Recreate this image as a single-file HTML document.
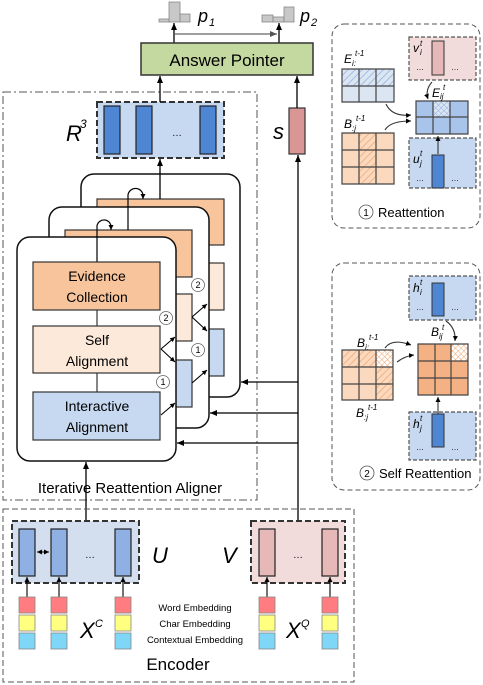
<!DOCTYPE html>
<html><head><meta charset="utf-8"><style>
html,body{margin:0;padding:0;background:#fff;}
svg{display:block;font-family:"Liberation Sans",sans-serif;}
</style></head><body>
<svg width="483" height="685" viewBox="0 0 483 685" xmlns="http://www.w3.org/2000/svg">
<defs>
<marker id="a" markerWidth="8" markerHeight="8" refX="7" refY="4" orient="auto" markerUnits="userSpaceOnUse"><path d="M0,1 L7,4 L0,7 z" fill="#000"/></marker>
<marker id="ag" markerWidth="8" markerHeight="8" refX="7" refY="4" orient="auto" markerUnits="userSpaceOnUse"><path d="M0,1 L7,4 L0,7 z" fill="#555"/></marker>
<marker id="as" markerWidth="6" markerHeight="6" refX="5" refY="3" orient="auto" markerUnits="userSpaceOnUse"><path d="M0,0.5 L5,3 L0,5.5 z" fill="#000"/></marker>
<marker id="asr" markerWidth="6" markerHeight="6" refX="1" refY="3" orient="auto" markerUnits="userSpaceOnUse"><path d="M6,0.5 L1,3 L6,5.5 z" fill="#000"/></marker>
<pattern id="hb" width="5" height="5" patternUnits="userSpaceOnUse" patternTransform="rotate(45)"><rect width="5" height="5" fill="#dce6f2"/><line x1="0" y1="0" x2="0" y2="5" stroke="#8fb0e0" stroke-width="1.5"/></pattern>
<pattern id="ho" width="5" height="5" patternUnits="userSpaceOnUse" patternTransform="rotate(45)"><rect width="5" height="5" fill="#fbd9bf"/><line x1="0" y1="0" x2="0" y2="5" stroke="#f4a56e" stroke-width="1.5"/></pattern>
<pattern id="xb" width="4" height="4" patternUnits="userSpaceOnUse" patternTransform="rotate(45)"><rect width="4" height="4" fill="#dce6f2"/><path d="M0,0 V4 M0,0 H4" stroke="#8fb0e0" stroke-width="1"/></pattern>
<pattern id="xo" width="4" height="4" patternUnits="userSpaceOnUse" patternTransform="rotate(45)"><rect width="4" height="4" fill="#fff"/><path d="M0,0 V4 M0,0 H4" stroke="#f4a56e" stroke-width="1"/></pattern>
</defs>

<!-- histograms -->
<g fill="#c8c8c8" stroke="#888" stroke-width="0.8">
<rect x="159" y="19" width="10" height="3"/><rect x="169" y="2" width="11" height="20"/><rect x="180" y="14" width="10" height="8"/>
<rect x="262" y="15" width="11" height="7"/><rect x="273" y="17" width="11" height="5"/><rect x="284" y="7" width="10" height="15"/>
</g>
<text x="198" y="22" font-size="18" font-style="italic">p</text><text x="209" y="26" font-size="11" font-style="italic">1</text>
<text x="300" y="22" font-size="18" font-style="italic">p</text><text x="311" y="26" font-size="11" font-style="italic">2</text>
<line x1="174" y1="43" x2="174" y2="23" stroke="#000" stroke-width="1.3" marker-end="url(#a)"/>
<line x1="279" y1="43" x2="279" y2="23" stroke="#000" stroke-width="1.3" marker-end="url(#a)"/>
<line x1="175" y1="34" x2="277" y2="34" stroke="#666" stroke-width="1.2" marker-end="url(#ag)"/>

<!-- Answer pointer -->
<rect x="141" y="43" width="172" height="32" fill="#c4d9a0" stroke="#333" stroke-width="1.5"/>
<text x="227" y="66" font-size="17" text-anchor="middle">Answer Pointer</text>

<!-- Iterative dashed box -->
<rect x="3" y="92" width="254" height="168" fill="none"/>
<path d="M3,92 H257 V500 H3 Z" fill="none" stroke="#555" stroke-width="1" stroke-dasharray="8,3,2,3"/>

<!-- R3 -->
<rect x="97" y="102" width="127" height="56" fill="#c6d9f0" stroke="#333" stroke-width="2" stroke-dasharray="6,3"/>
<g fill="#4f86d4" stroke="#222" stroke-width="1.2">
<rect x="104" y="106" width="16" height="48"/><rect x="136" y="106" width="16" height="48"/><rect x="200" y="106" width="16" height="48"/>
</g>
<text x="177" y="136" font-size="10" text-anchor="middle">…</text>
<text x="66" y="141" font-size="22" font-style="italic">R</text><text x="80" y="128" font-size="12" font-style="italic">3</text>
<line x1="160" y1="102" x2="160" y2="76" stroke="#000" stroke-width="1.3" marker-end="url(#a)"/>

<!-- s -->
<rect x="289" y="108" width="16" height="46" fill="#d99694" stroke="#333" stroke-width="1.2"/>
<text x="273" y="139" font-size="22" font-style="italic">s</text>
<line x1="297" y1="108" x2="297" y2="76" stroke="#000" stroke-width="1.3" marker-end="url(#a)"/>
<line x1="298" y1="520" x2="298" y2="155" stroke="#000" stroke-width="1.3" marker-end="url(#a)"/>

<!-- back frame -->
<rect x="81" y="174" width="159" height="223" rx="13" fill="#fff" stroke="#111" stroke-width="1.5"/>
<rect x="97" y="199" width="127" height="46" fill="#f8c49c" stroke="#333" stroke-width="1.2"/>
<rect x="97" y="263" width="127" height="47" fill="#fde9d9" stroke="#333" stroke-width="1.2"/>
<rect x="97" y="329" width="127" height="47" fill="#c6d9f0" stroke="#333" stroke-width="1.2"/>
<line x1="160" y1="199" x2="160" y2="159" stroke="#000" stroke-width="1.3" marker-end="url(#a)"/>
<!-- middle frame -->
<rect x="49" y="207" width="160" height="221" rx="13" fill="#fff" stroke="#111" stroke-width="1.5"/>
<rect x="65" y="230" width="127" height="47" fill="#f8c49c" stroke="#333" stroke-width="1.2"/>
<rect x="65" y="294" width="127" height="47" fill="#fde9d9" stroke="#333" stroke-width="1.2"/>
<rect x="65" y="360" width="127" height="47" fill="#c6d9f0" stroke="#333" stroke-width="1.2"/>
<path d="M128,230 V195 A7,7 0 0 1 143,197 V199" fill="none" stroke="#000" stroke-width="1.2" marker-end="url(#as)"/>
<!-- front frame -->
<rect x="17" y="237" width="159" height="224" rx="13" fill="#fff" stroke="#111" stroke-width="1.5"/>
<path d="M97,262 V226 A7,7 0 0 1 111,228 V230" fill="none" stroke="#000" stroke-width="1.2" marker-end="url(#as)"/>
<line x1="97" y1="310" x2="97" y2="326" stroke="#333" stroke-width="1.2"/>
<line x1="97" y1="373" x2="97" y2="392" stroke="#333" stroke-width="1.2"/>
<rect x="33" y="262" width="127" height="48" fill="#f8c49c" stroke="#333" stroke-width="1.2"/>
<rect x="33" y="326" width="127" height="47" fill="#fde9d9" stroke="#333" stroke-width="1.2"/>
<rect x="33" y="392" width="127" height="48" fill="#c6d9f0" stroke="#333" stroke-width="1.2"/>
<g font-size="14" text-anchor="middle">
<text x="97" y="281">Evidence</text><text x="97" y="302">Collection</text>
<text x="97" y="345">Self</text><text x="97" y="366">Alignment</text>
<text x="97" y="411">Interactive</text><text x="97" y="432">Alignment</text>
</g>
<!-- small arrows -->
<g stroke="#000" stroke-width="1.1" fill="none" marker-end="url(#as)">
<path d="M161,349 L175,337"/><path d="M161,349 L175,362"/><path d="M161,415 L175,403"/>
<path d="M192,317 L207,304"/><path d="M192,317 L207,331"/><path d="M192,383 L207,370"/>
</g>
<g fill="#fff" stroke="#666" stroke-width="0.8" font-size="9" text-anchor="middle">
<circle cx="166" cy="318" r="6.5"/><circle cx="163" cy="382" r="6.5"/><circle cx="198" cy="285" r="6.5"/><circle cx="198" cy="350" r="6.5"/>
</g>
<g font-size="9" text-anchor="middle"><text x="166" y="321">2</text><text x="163" y="385">1</text><text x="198" y="288">2</text><text x="198" y="353">1</text></g>
<!-- s feeds -->
<g stroke="#000" stroke-width="1.3" marker-end="url(#a)">
<line x1="298" y1="382" x2="241" y2="382"/><line x1="298" y1="413" x2="210" y2="413"/><line x1="298" y1="443" x2="177" y2="443"/>
</g>
<line x1="86" y1="520" x2="86" y2="462" stroke="#000" stroke-width="1.3" marker-end="url(#a)"/>
<text x="130" y="493" font-size="15" text-anchor="middle">Iterative Reattention Aligner</text>

<!-- Encoder -->
<rect x="3" y="509" width="351" height="173" fill="none" stroke="#555" stroke-width="1" stroke-dasharray="6,3"/>
<rect x="12" y="521" width="127" height="62" fill="#d3dfee" stroke="#333" stroke-width="2" stroke-dasharray="6,3"/>
<g fill="#8fb0e3" stroke="#222" stroke-width="1.2">
<rect x="19" y="529" width="16" height="47"/><rect x="51" y="529" width="16" height="47"/><rect x="115" y="529" width="16" height="47"/>
</g>
<line x1="37" y1="552" x2="49" y2="552" stroke="#000" stroke-width="1" marker-end="url(#as)" marker-start="url(#asr)"/>
<text x="90" y="558" font-size="10" text-anchor="middle">…</text>
<rect x="251" y="521" width="94" height="62" fill="#f2dcdb" stroke="#333" stroke-width="2" stroke-dasharray="6,3"/>
<g fill="#e6b8b7" stroke="#222" stroke-width="1.2"><rect x="259" y="529" width="16" height="47"/><rect x="322" y="529" width="16" height="47"/></g>
<text x="298" y="558" font-size="10" text-anchor="middle">…</text>
<text x="152" y="563" font-size="22" font-style="italic">U</text>
<text x="222" y="563" font-size="22" font-style="italic">V</text>
<g stroke="#000" stroke-width="1.1" marker-end="url(#as)">
<line x1="27" y1="597" x2="27" y2="577"/><line x1="59" y1="597" x2="59" y2="577"/><line x1="123" y1="597" x2="123" y2="577"/><line x1="267" y1="597" x2="267" y2="577"/><line x1="330" y1="597" x2="330" y2="577"/>
</g>
<g stroke="#888" stroke-width="0.8">
<g transform="translate(19,0)"><rect y="597" width="16" height="16" fill="#ff7c80"/><rect y="615" width="16" height="16" fill="#ffff80"/><rect y="633" width="16" height="16" fill="#7fd7f7"/></g>
<g transform="translate(51,0)"><rect y="597" width="16" height="16" fill="#ff7c80"/><rect y="615" width="16" height="16" fill="#ffff80"/><rect y="633" width="16" height="16" fill="#7fd7f7"/></g>
<g transform="translate(115,0)"><rect y="597" width="16" height="16" fill="#ff7c80"/><rect y="615" width="16" height="16" fill="#ffff80"/><rect y="633" width="16" height="16" fill="#7fd7f7"/></g>
<g transform="translate(259,0)"><rect y="597" width="16" height="16" fill="#ff7c80"/><rect y="615" width="16" height="16" fill="#ffff80"/><rect y="633" width="16" height="16" fill="#7fd7f7"/></g>
<g transform="translate(322,0)"><rect y="597" width="16" height="16" fill="#ff7c80"/><rect y="615" width="16" height="16" fill="#ffff80"/><rect y="633" width="16" height="16" fill="#7fd7f7"/></g>
</g>
<text x="80" y="638" font-size="22" font-style="italic">X</text><text x="95" y="627" font-size="11" font-style="italic">C</text>
<text x="286" y="638" font-size="22" font-style="italic">X</text><text x="301" y="627" font-size="11" font-style="italic">Q</text>
<g font-size="9.5" text-anchor="middle"><text x="195" y="611">Word Embedding</text><text x="195" y="627">Char Embedding</text><text x="195" y="643">Contextual Embedding</text></g>
<text x="178" y="670" font-size="17" text-anchor="middle">Encoder</text>

<!-- Reattention panel -->
<rect x="332" y="24" width="148" height="204" rx="12" fill="none" stroke="#555" stroke-width="1" stroke-dasharray="5,3"/>
<text x="344" y="63" font-size="12" font-style="italic">E</text><text x="352" y="66" font-size="8" font-style="italic">i:</text><text x="355" y="56" font-size="8" font-style="italic">t-1</text>
<rect x="342" y="69" width="52" height="17" fill="url(#hb)"/><rect x="342" y="86" width="52" height="16" fill="#dce6f2"/>
<path d="M342,69 H394 V102 H342 Z M359,69 V102 M376,69 V102 M342,86 H394" fill="none" stroke="#444" stroke-width="1.2"/>
<text x="344" y="128" font-size="12" font-style="italic">B</text><text x="352" y="131" font-size="8" font-style="italic">:j</text><text x="356" y="121" font-size="8" font-style="italic">t-1</text>
<rect x="342" y="133" width="52" height="51" fill="#fbd9bf"/><rect x="359" y="133" width="17" height="51" fill="url(#ho)"/>
<path d="M342,133 H394 V184 H342 Z M359,133 V184 M376,133 V184 M342,150 H394 M342,167 H394" fill="none" stroke="#444" stroke-width="1.2"/>
<rect x="409" y="37" width="67" height="43" fill="#f2dcdb" stroke="#555" stroke-width="1.2" stroke-dasharray="4,2"/>
<rect x="432" y="41" width="12" height="34" fill="#e6b8b7" stroke="#333" stroke-width="1"/>
<text x="413" y="52" font-size="12" font-style="italic">v</text><text x="420" y="46" font-size="8" font-style="italic">t</text><text x="420" y="55" font-size="8" font-style="italic">i</text>
<text x="416" y="70" font-size="8">…</text><text x="451" y="70" font-size="8">…</text>
<rect x="416" y="101" width="52" height="33" fill="#a8c4ea"/><rect x="433" y="101" width="17" height="16" fill="url(#xb)"/>
<path d="M416,101 H468 V134 H416 Z M433,101 V134 M450,101 V134 M416,117 H468" fill="none" stroke="#444" stroke-width="1.2"/>
<text x="432" y="97" font-size="12" font-style="italic">E</text><text x="440" y="99" font-size="8" font-style="italic">ij</text><text x="443" y="90" font-size="8" font-style="italic">t</text>
<rect x="409" y="138" width="67" height="50" fill="#c6d9f0" stroke="#555" stroke-width="1.2" stroke-dasharray="4,2"/>
<rect x="432" y="155" width="12" height="33" fill="#4f86d4" stroke="#333" stroke-width="1"/>
<text x="413" y="163" font-size="12" font-style="italic">u</text><text x="420" y="156" font-size="8" font-style="italic">t</text><text x="420" y="166" font-size="8" font-style="italic">j</text>
<text x="416" y="181" font-size="8">…</text><text x="451" y="181" font-size="8">…</text>
<g fill="none" stroke="#333" stroke-width="1.1" marker-end="url(#as)">
<path d="M386,104 Q392,117 411,115"/><path d="M385,130 Q390,121 411,121"/><path d="M432,82 Q425,90 428,99"/><path d="M438,154 V136"/>
</g>
<circle cx="366" cy="212" r="7" fill="#fff" stroke="#555" stroke-width="0.8"/><text x="366" y="216" font-size="10" text-anchor="middle">1</text>
<text x="378" y="217" font-size="13">Reattention</text>

<!-- Self reattention panel -->
<rect x="332" y="263" width="148" height="227" rx="12" fill="none" stroke="#555" stroke-width="1" stroke-dasharray="5,3"/>
<rect x="409" y="276" width="67" height="44" fill="#c6d9f0" stroke="#555" stroke-width="1.2" stroke-dasharray="4,2"/>
<rect x="432" y="283" width="12" height="33" fill="#4f86d4" stroke="#333" stroke-width="1"/>
<text x="413" y="292" font-size="12" font-style="italic">h</text><text x="420" y="285" font-size="8" font-style="italic">t</text><text x="420" y="295" font-size="8" font-style="italic">i</text>
<text x="416" y="310" font-size="8">…</text><text x="451" y="310" font-size="8">…</text>
<text x="357" y="347" font-size="12" font-style="italic">B</text><text x="365" y="350" font-size="8" font-style="italic">i:</text><text x="369" y="340" font-size="8" font-style="italic">t-1</text>
<rect x="342" y="350" width="51" height="50" fill="#fbd9bf"/>
<rect x="342" y="350" width="34" height="17" fill="url(#ho)"/><rect x="376" y="367" width="17" height="33" fill="url(#ho)"/><rect x="376" y="350" width="17" height="17" fill="url(#xo)"/>
<path d="M342,350 H393 V400 H342 Z M359,350 V400 M376,350 V400 M342,367 H393 M342,384 H393" fill="none" stroke="#444" stroke-width="1.2"/>
<text x="356" y="417" font-size="12" font-style="italic">B</text><text x="364" y="420" font-size="8" font-style="italic">:j</text><text x="368" y="410" font-size="8" font-style="italic">t-1</text>
<text x="431" y="336" font-size="12" font-style="italic">B</text><text x="439" y="339" font-size="8" font-style="italic">ij</text><text x="442" y="330" font-size="8" font-style="italic">t</text>
<rect x="418" y="344" width="50" height="51" fill="#f4b183"/><rect x="451" y="344" width="17" height="17" fill="url(#xo)"/>
<path d="M418,344 H468 V395 H418 Z M435,344 V395 M451,344 V395 M418,361 H468 M418,378 H468" fill="none" stroke="#444" stroke-width="1.2"/>
<rect x="409" y="412" width="67" height="48" fill="#c6d9f0" stroke="#555" stroke-width="1.2" stroke-dasharray="4,2"/>
<rect x="432" y="414" width="12" height="33" fill="#4f86d4" stroke="#333" stroke-width="1"/>
<text x="413" y="428" font-size="12" font-style="italic">h</text><text x="420" y="421" font-size="8" font-style="italic">t</text><text x="420" y="431" font-size="8" font-style="italic">j</text>
<text x="416" y="450" font-size="8">…</text><text x="451" y="450" font-size="8">…</text>
<g fill="none" stroke="#333" stroke-width="1.1" marker-end="url(#as)">
<path d="M385,348 Q392,338 411,345"/><path d="M397,362 Q405,356 414,355"/><path d="M446,321 Q456,328 455,341"/><path d="M438,414 V397"/>
</g>
<circle cx="367" cy="473" r="7" fill="#fff" stroke="#555" stroke-width="0.8"/><text x="367" y="477" font-size="10" text-anchor="middle">2</text>
<text x="379" y="478" font-size="13">Self Reattention</text>
</svg>
</body></html>
